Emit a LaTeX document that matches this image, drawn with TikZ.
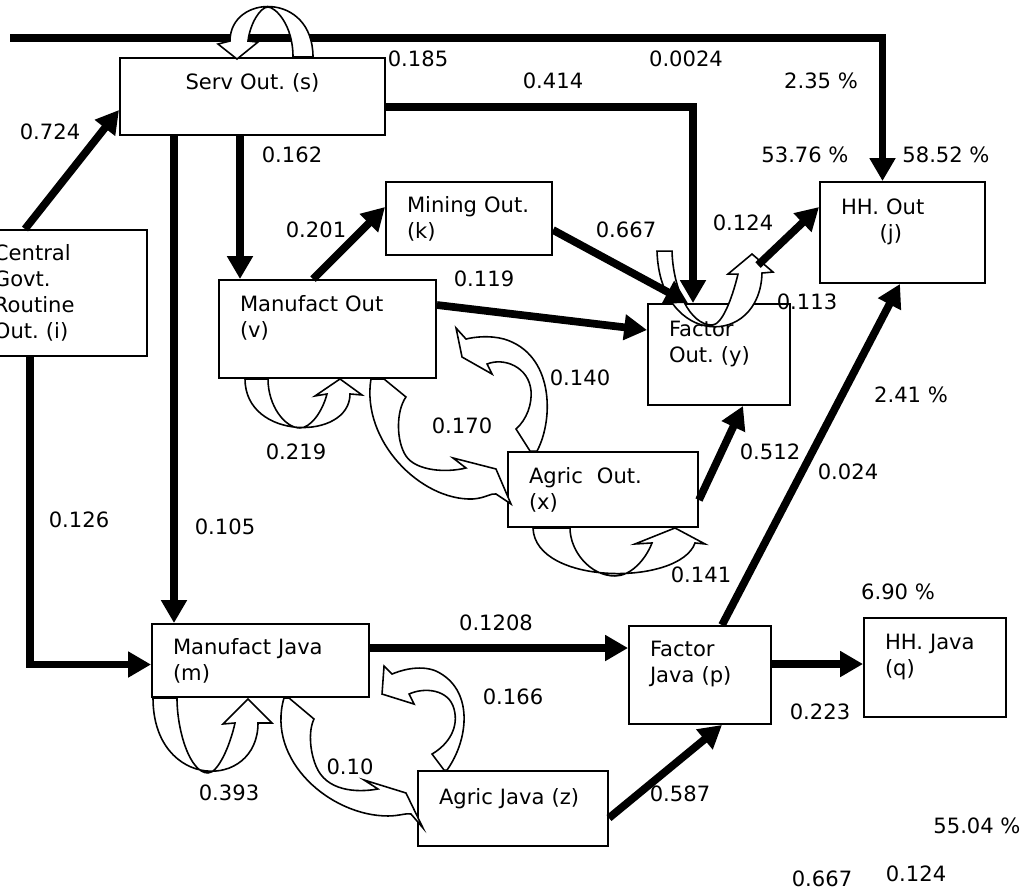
\documentclass[tikz,border=0pt]{standalone}
\usepackage{fontspec}
\setmainfont{DejaVu Sans}
\frenchspacing
\usetikzlibrary{arrows.meta,positioning,calc}

\begin{document}
\begin{tikzpicture}[
    x=0.2mm, y=-0.2mm,
    font=\fontsize{12}{14.8}\selectfont,
    box/.style={rectangle, draw, line width=1.1pt, align=left, inner xsep=4.2mm, inner ysep=0pt},
    raised/.style={text depth=29.5pt},
    numlbl/.style={inner sep=0pt},
    arrow/.style={-{Triangle[length=13pt,width=14pt]}, line width=4.4pt},
    hollow/.style={draw, fill=white, line width=0.9pt}
]
    \useasboundingbox (0,0) rectangle (1032,894);
    \clip (0,0) rectangle (1032,894);

    \node[box, align=center, text width=44.6mm, minimum height=15.4mm, text depth=17pt] (serv) at (252.5,96.5) {Serv Out. (s)};
    \node[box, text width=26.4mm, minimum height=25.2mm] (govt) at (60,293) {Central\\Govt.\\Routine\\Out. (i)};
    \node[box, text width=24.8mm, minimum height=14.6mm] (mining) at (469,218.5) {Mining Out.\\(k)};
    \node[box, raised, text width=35mm, minimum height=19.6mm] (manout) at (327.5,329) {Manufact Out\\(v)};
    \node[box, raised, text width=20mm, minimum height=20.2mm] (facout) at (719,354.5) {Factor\\Out. (y)};
    \node[box, raised, text width=24.6mm, minimum height=20.2mm] (hhout) at (902.5,232.5) {HH. Out\\\hspace*{22pt}(j)};
    \node[box, text width=29.6mm, minimum height=15mm] (agrout) at (603,489.5) {Agric\ \ Out.\\(x)};
    \node[box, text width=35mm, minimum height=14.6mm] (manjava) at (260.5,660.5) {Manufact Java\\(m)};
    \node[box, text depth=14pt, text width=29.6mm, minimum height=15mm] (agrjava) at (513,808.5) {Agric Java (z)};
    \node[box, raised, text width=20mm, minimum height=19.6mm] (facjava) at (700,675) {Factor\\Java (p)};
    \node[box, raised, text width=20mm, minimum height=19.8mm] (hhjava) at (935,667.5) {HH. Java\\(q)};
    \coordinate (topstart) at (10,38);

    \begin{scope}[shift={(facout.north)}]
        \draw[hollow] (-62,-52) .. controls (-59,45) and (41,45) .. (43,-30) -- (54,-31) -- (33,-49) -- (9,-29) -- (19,-29)
            .. controls (13,-4) and (3,22) .. (-7,22) .. controls (-29,22) and (-46,-14) .. (-47,-52) -- cycle;
    \end{scope}

    \draw[arrow] (topstart) -| ([xshift=-4mm]hhout.north);
    \draw[arrow] ([yshift=-2.1mm]serv.east) -| ([xshift=-5.2mm]facout.north);
    \draw[arrow] ([xshift=-2.5mm]serv.south) -- ([xshift=-2.5mm]serv.south |- manout.north);
    \draw[arrow] ([xshift=-15.7mm]serv.south) -- ([xshift=-15.7mm]serv.south |- manjava.north);
    \draw[arrow] ([xshift=-7mm]govt.north) -- ([yshift=-2.7mm]serv.west);
    \draw[arrow] ([xshift=-6mm]govt.south) |- ([yshift=-0.8mm]manjava.west);
    \draw[arrow] ([xshift=-2.9mm]manout.north) -- ([yshift=2.3mm]mining.west);
    \draw[arrow] ([yshift=-2.3mm]mining.east) -- ([xshift=-6.2mm]facout.north);
    \draw[arrow] ([yshift=4.8mm]manout.east) -- ([yshift=4.9mm]facout.west);
    \draw[arrow] ([shift={(7.8mm,7.6mm)}]facout.north) -- ([yshift=5.1mm]hhout.west);
    \draw[arrow] ([yshift=-2.1mm]agrout.east) -- ([xshift=4.8mm]facout.south);
    \draw[arrow] ([xshift=4.4mm]facjava.north) -- ([xshift=-0.5mm]hhout.south);
    \draw[arrow] ([yshift=2.5mm]manjava.east) -- ([yshift=2.5mm]manjava.east -| facjava.west);
    \draw[arrow] ([yshift=2.2mm]facjava.east) -- ([yshift=2.2mm]facjava.east -| hhjava.west);
    \draw[arrow] ([yshift=-1.9mm]agrjava.east) -- ([xshift=4.4mm]facjava.south);

    \begin{scope}[shift={(serv.north)}]
        \draw[hollow] (60.5,0) .. controls (60.5,-66) and (-22.5,-63) .. (-22.5,-16) -- (-34.5,-13) -- (-15.5,2) -- (5.5,-15) -- (-4.5,-16)
            .. controls (-2.5,-33) and (7.5,-50) .. (15.5,-50) .. controls (22.5,-50) and (40.5,-33) .. (40.5,0) -- cycle;
    \end{scope}
    \begin{scope}[shift={(manout.south)}]
        \draw[hollow] (-82.5,0) .. controls (-82.5,62) and (22.5,62) .. (22.5,15) -- (34.5,16) -- (12.5,0) -- (-12.5,17) -- (-0.5,15)
            .. controls (-5.5,34) and (-17.5,49) .. (-27.5,49) .. controls (-42.5,49) and (-59.5,27) .. (-59.5,0) -- cycle;
    \end{scope}
    \begin{scope}[shift={(agrout.south)}]
        \draw[hollow] (-70,0) .. controls (-68,58) and (77,58) .. (92,15) -- (102,16) -- (72,0) -- (32,16) -- (49,15)
            .. controls (42,33) and (27,48) .. (12,48) .. controls (-13,48) and (-33,23) .. (-33,0) -- cycle;
    \end{scope}
    \begin{scope}[shift={(manjava.south)}]
        \draw[hollow] (-107.5,0) .. controls (-107.5,93) and (-2.5,93) .. (-2.5,25) -- (11.5,25) -- (-12.5,1) -- (-37.5,26) -- (-25.5,25)
            .. controls (-30.5,48) and (-42.5,75) .. (-52.5,75) .. controls (-70.5,75) and (-83.5,33) .. (-83.5,0) -- cycle;
    \end{scope}
    \begin{scope}[shift={(manout.south east)}]
        \draw[hollow] (-66,0) .. controls (-76,62) and (-16,122) .. (36,120) .. controls (49,119) and (54,114) .. (59,115) -- (74,125) -- (59,90) -- (16,79) -- (29,89)
            .. controls (9,94) and (-21,92) .. (-31,77) .. controls (-41,62) and (-41,32) .. (-31,18) -- (-53,0) -- cycle;
    \end{scope}
    \begin{scope}[shift={(agrout.north west)}]
        \draw[hollow] (30,0) .. controls (47,-32) and (47,-97) .. (-3,-112) .. controls (-18,-116) and (-33,-114) .. (-41,-112) -- (-51,-123) -- (-45,-94) -- (-15,-77) -- (-20,-87)
            .. controls (-3,-94) and (22,-84) .. (24,-60) .. controls (25,-47) and (20,-32) .. (9,-22) -- (23,0) -- cycle;
    \end{scope}
    \begin{scope}[shift={(manjava.south east)}]
        \draw[hollow] (-86,0) .. controls (-104,63) and (-39,118) .. (18,118) .. controls (29,118) and (36,115) .. (41,116) -- (53,130) -- (36,95) -- (-6,82) -- (8,91)
            .. controls (-14,95) and (-44,93) .. (-54,68) .. controls (-61,51) and (-61,31) .. (-56,21) -- (-81,0) -- cycle;
    \end{scope}
    \begin{scope}[shift={(agrjava.north west)}]
        \draw[hollow] (30,0) .. controls (52,-31) and (57,-81) .. (19,-99) .. controls (2,-106) and (-18,-99) .. (-25,-96) -- (-33,-104) -- (-35,-76) -- (-3,-66) -- (-8,-76)
            .. controls (7,-83) and (32,-81) .. (37,-61) .. controls (42,-43) and (32,-26) .. (15,-16) -- (27,0) -- cycle;
    \end{scope}

    \node[numlbl] (govserv) at (50,132) {0.724};
    \node[numlbl] (servself) at (418,59) {0.185};
    \node[numlbl] (servfac) at (553,81) {0.414};
    \node[numlbl] (servhh) at (686,59) {0.0024};
    \node[numlbl] (pcthhserv) at (821,81) {2.35 \%};
    \node[numlbl] (servman) at (292,155) {0.162};
    \node[numlbl] (pcthhfac) at (805,155) {53.76 \%};
    \node[numlbl] (pcthhout) at (946,155) {58.52 \%};
    \node[numlbl] (manmin) at (316,230) {0.201};
    \node[numlbl] (minfac) at (626,230) {0.667};
    \node[numlbl] (fachh) at (743,223) {0.124};
    \node[numlbl] (manfac) at (484,279) {0.119};
    \node[numlbl] (facself) at (807,302) {0.113};
    \node[numlbl] (agrman) at (580,378) {0.140};
    \node[numlbl] (pcthhjava) at (911,395) {2.41 \%};
    \node[numlbl] (managr) at (462,426) {0.170};
    \node[numlbl] (manself) at (296,452) {0.219};
    \node[numlbl] (agrfac) at (770,452) {0.512};
    \node[numlbl] (javahh) at (848,472) {0.024};
    \node[numlbl] (govjava) at (79,520) {0.126};
    \node[numlbl] (servjava) at (225,527) {0.105};
    \node[numlbl] (agrself) at (701,575) {0.141};
    \node[numlbl] (pcthhq) at (898,592) {6.90 \%};
    \node[numlbl] (manjfacj) at (496,623) {0.1208};
    \node[numlbl] (agrjmanj) at (513,697) {0.166};
    \node[numlbl] (facjhhj) at (820,712) {0.223};
    \node[numlbl] (manjagrj) at (350,767) {0.10};
    \node[numlbl] (manjself) at (229,793) {0.393};
    \node[numlbl] (agrjfacj) at (680,794) {0.587};
    \node[numlbl] (pctjava) at (977,826) {55.04 \%};
    \node[numlbl] (extramin) at (822,879) {0.667};
    \node[numlbl] (extrafac) at (916,874) {0.124};
\end{tikzpicture}
\end{document}
